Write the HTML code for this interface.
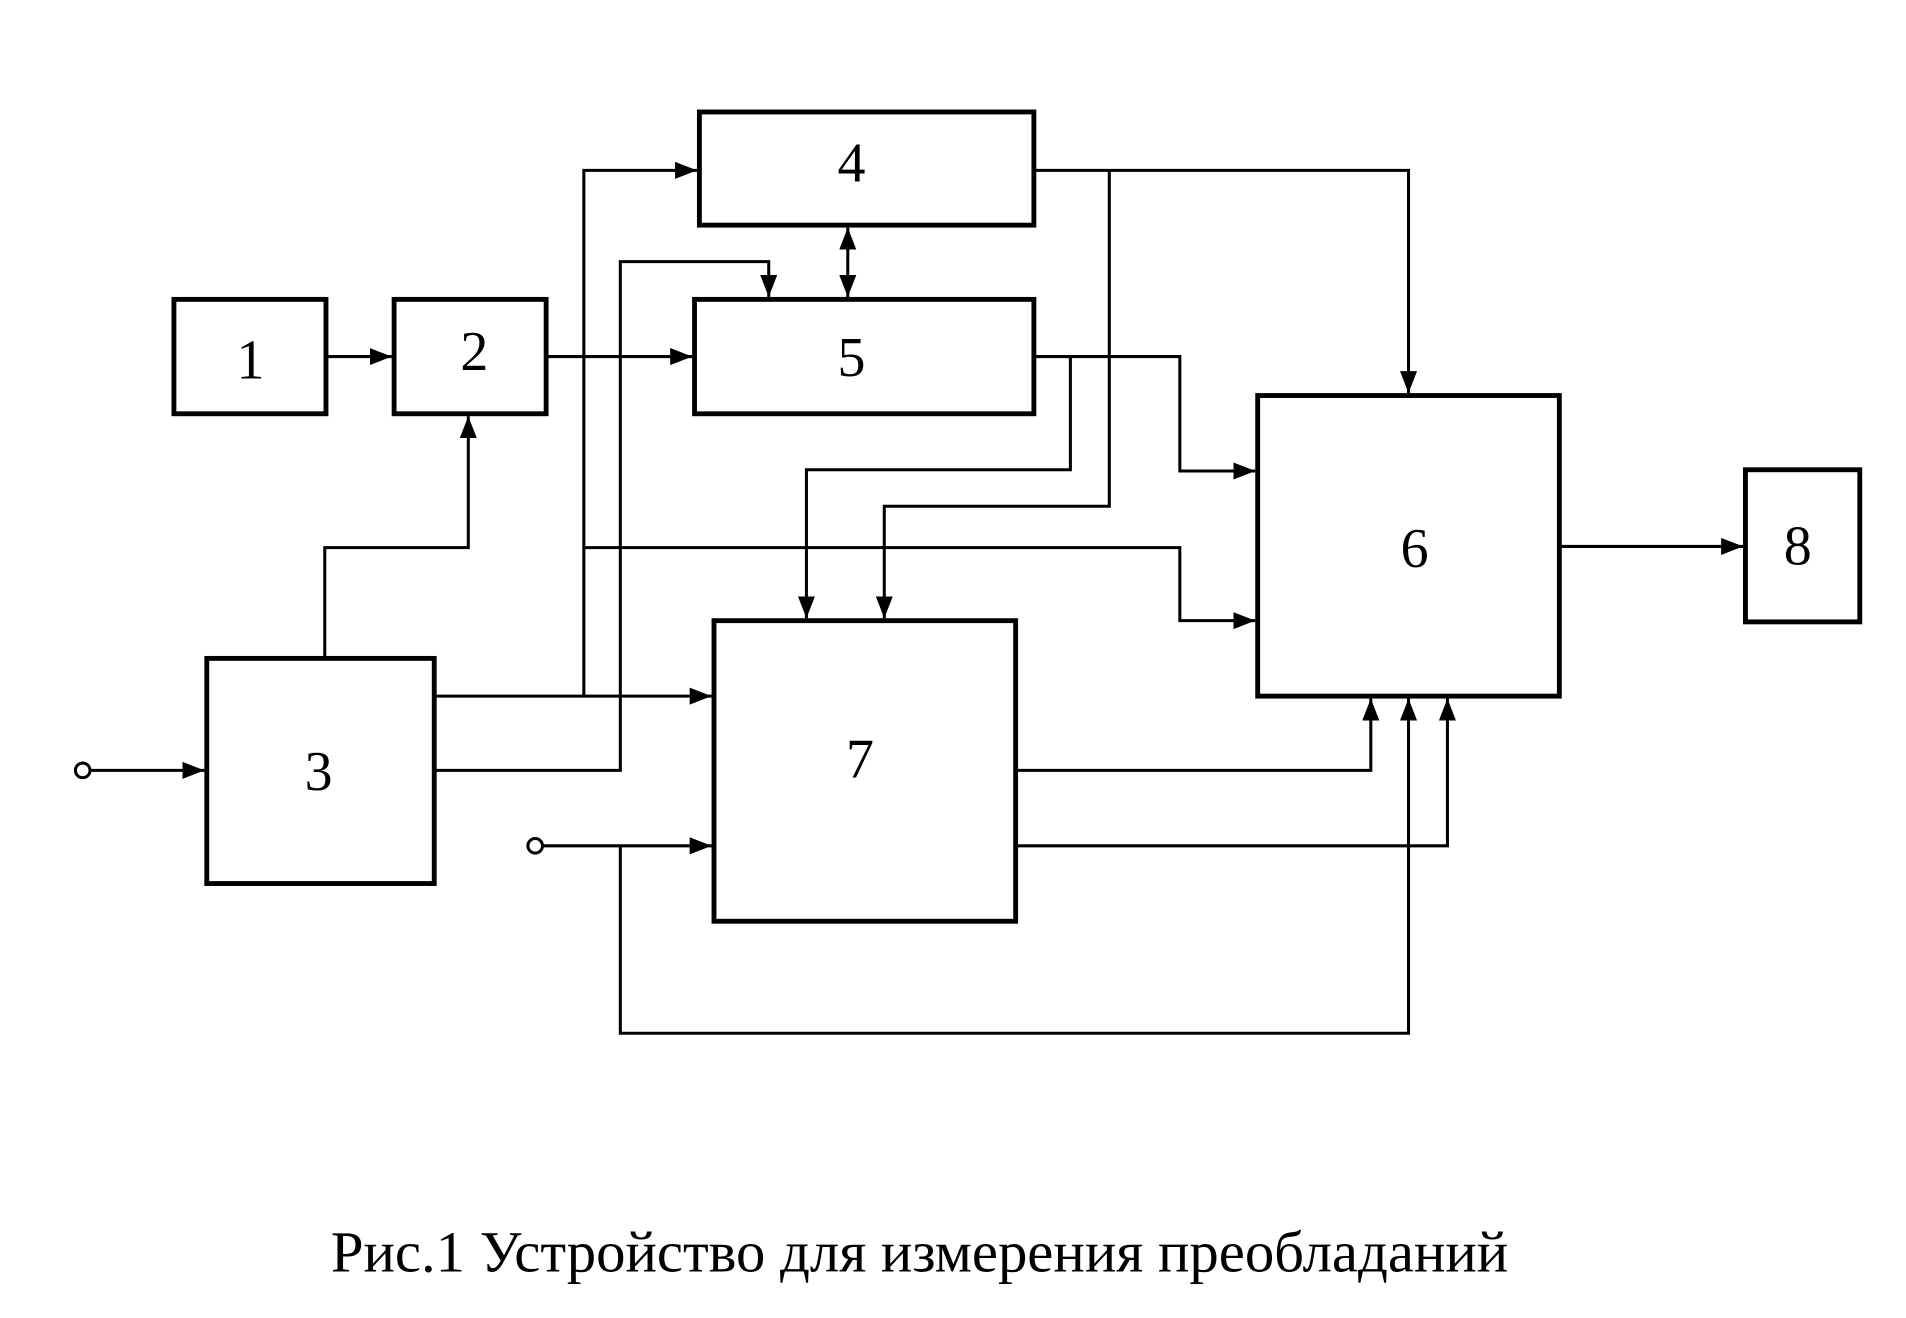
<!DOCTYPE html>
<html><head><meta charset="utf-8"><style>html,body{margin:0;padding:0;background:#fff}svg{display:block}</style></head>
<body>
<svg width="1906" height="1318" viewBox="0 0 1567 1083" preserveAspectRatio="none" xmlns="http://www.w3.org/2000/svg">
<defs>
<marker id="b" viewBox="0 0 10 10" refX="10" refY="5" markerWidth="18" markerHeight="14" markerUnits="userSpaceOnUse" orient="auto-start-reverse" preserveAspectRatio="none"><path d="M0,0 L10,5 L0,10 z" fill="#000"/></marker></defs>
<g fill="none" stroke="#000" stroke-width="4">
<rect x="575" y="92" width="275" height="93"/>
<rect x="571" y="246" width="279" height="94"/>
<rect x="143" y="246" width="125" height="94"/>
<rect x="324" y="246" width="125" height="94"/>
<rect x="170" y="541" width="187" height="185"/>
<rect x="587" y="510" width="248" height="247"/>
<rect x="1034" y="325" width="248" height="247"/>
<rect x="1435" y="386" width="94" height="125"/>
</g>
<g fill="none" stroke="#000" stroke-width="2.5">
<path d="M268,293 H322" marker-end="url(#b)"/>
<path d="M449,293 H569" marker-end="url(#b)"/>
<path d="M267,541 V450 H385 V342" marker-end="url(#b)"/>
<path d="M357,572 H585" marker-end="url(#b)"/>
<path d="M480,572 V140 H573" marker-end="url(#b)"/>
<path d="M480,450 H970 V510 H1032" marker-end="url(#b)"/>
<path d="M357,633 H510 V215 H632 V244" marker-end="url(#b)"/>
<path d="M697,187 V244" marker-start="url(#b)" marker-end="url(#b)"/>
<path d="M850,140 H1158 V323" marker-end="url(#b)"/>
<path d="M912,140 V416 H727 V508" marker-end="url(#b)"/>
<path d="M850,293 H970 V387 H1032" marker-end="url(#b)"/>
<path d="M880,293 V386 H663 V508" marker-end="url(#b)"/>
<path d="M1282,449 H1433" marker-end="url(#b)"/>
<path d="M835,633 H1127 V574" marker-end="url(#b)"/>
<path d="M835,695 H1190 V574" marker-end="url(#b)"/>
<path d="M74,633 H168" marker-end="url(#b)"/>
<path d="M446,695 H585" marker-end="url(#b)"/>
<path d="M510,695 V849 H1158 V574" marker-end="url(#b)"/>
<circle cx="68" cy="633" r="6"/>
<circle cx="440" cy="695" r="6"/>
</g>
<g font-family="Liberation Serif, serif" font-size="46" text-anchor="middle" fill="#000">
<text x="700" y="149">4</text>
<text x="700" y="309">5</text>
<text x="206" y="311">1</text>
<text x="390" y="304">2</text>
<text x="262" y="649">3</text>
<text x="707" y="639">7</text>
<text x="1163" y="466">6</text>
<text x="1478" y="464">8</text>
<text x="272" y="1045" text-anchor="start" font-size="48" textLength="968" lengthAdjust="spacingAndGlyphs">Рис.1 Устройство для измерения преобладаний</text>
</g>
</svg>
</body></html>
